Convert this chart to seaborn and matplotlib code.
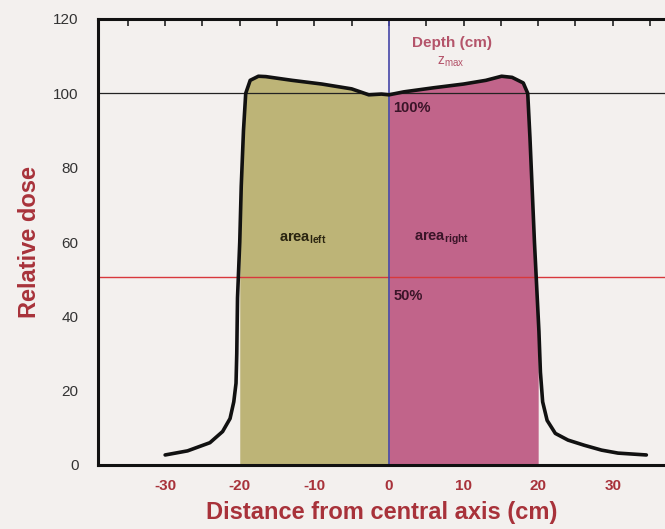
import numpy as np
import pandas as pd
import matplotlib
matplotlib.use("Agg")
import matplotlib.pyplot as plt
import seaborn as sns
from matplotlib.ticker import MultipleLocator

# beam profile
dist = [-30, -27, -24, -22.3, -21.3, -20.8, -20.5, -20.4, -20.3, -20.0, -19.8, -19.5, -19.2,
        -18.6, -17.5, -16.5, -13, -9, -5, -2.7, -1, 0, 2, 6, 10, 13, 15.1, 16.5,
        18.0, 18.6, 18.9, 19.2, 19.5, 19.8, 20.1, 20.3, 20.6, 21.2, 22.3, 24, 26.2, 28.5, 30.7, 34.5]
dose = [2.7, 3.8, 6.0, 9.0, 12.5, 17, 22, 30, 45, 60, 75, 90, 100,
        103.5, 104.6, 104.5, 103.5, 102.5, 101.2, 99.6, 99.8, 99.6, 100.4, 101.5, 102.5, 103.5, 104.6, 104.3,
        102.8, 100, 88, 74, 60, 48, 36, 25, 17, 12, 8.5, 6.7, 5.3, 4.0, 3.2, 2.7]
field_edges = [-20, 0, 20]
ref_levels = [100, 50.5]
xticks = [-30, -20, -10, 0, 10, 20, 30]
yticks = [0, 20, 40, 60, 80, 100, 120]

df = pd.DataFrame({"dist": dist, "dose": dose})

bg = "#f3f0ee"
dark_red = "#a8323a"

sns.set_style("white")
plt.rcParams["font.family"] = ["Liberation Sans", "DejaVu Sans"]
plt.rcParams["axes.unicode_minus"] = False

fig = plt.figure(figsize=(6.65, 5.29), dpi=100, facecolor=bg)
ax = fig.add_axes([98 / 665, 64 / 529, 567 / 665, 446 / 529])
ax.set_facecolor(bg)


def segment(a, b):
    xs = np.array(dist)
    ys = np.array(dose)
    keep = (xs > a) & (xs < b)
    sx = np.concatenate([[a], xs[keep], [b]])
    sy = np.concatenate([[np.interp(a, xs, ys)], ys[keep], [np.interp(b, xs, ys)]])
    return sx, sy


lx, ly = segment(field_edges[0], field_edges[1])
rx, ry = segment(field_edges[1], field_edges[2])
ax.fill_between(lx, 0, ly, color="#bdb477", lw=0, zorder=1)
ax.fill_between(rx, 0, ry, color="#c1648a", lw=0, zorder=1)

ax.axhline(ref_levels[0], color="#222222", lw=0.9, zorder=2)
ax.axhline(ref_levels[1], color="#d8383c", lw=1.0, zorder=2)
ax.axvline(0, color="#4646a8", lw=1.2, zorder=2)

sns.lineplot(data=df, x="dist", y="dose", sort=False, color="#111111", lw=2.6,
             ax=ax, zorder=3)

ax.set_xlim(-39, 37)
ax.set_ylim(0, 120)
ax.set_xticks(xticks)
ax.set_yticks(yticks)
ax.xaxis.set_minor_locator(MultipleLocator(5))
ax.yaxis.set_minor_locator(MultipleLocator(5))
ax.tick_params(axis="x", which="both", direction="in", length=5, width=1.2,
               colors="#222222", labelcolor=dark_red, labelsize=11, pad=10, top=True)
ax.tick_params(axis="y", which="both", direction="in", length=4, width=1.2,
               colors="#222222", labelcolor="#333333", labelsize=11, pad=14)
for lab in ax.get_xticklabels():
    lab.set_fontweight("bold")

for side in ["left", "bottom", "top"]:
    ax.spines[side].set_linewidth(2.2)
    ax.spines[side].set_color("#111111")
ax.spines["right"].set_visible(False)

ax.set_xlabel("Distance from central axis (cm)", color=dark_red, fontsize=17,
              fontweight="bold", labelpad=6)
ax.set_ylabel("Relative dose", color=dark_red, fontsize=17, fontweight="bold",
              labelpad=9)

ax.text(8.5, 113.5, "Depth (cm)", color="#b4546a", fontsize=11, fontweight="bold",
        ha="center", va="center")
ax.text(8.3, 108.5, r"z$_{\mathregular{max}}$", color="#b4546a", fontsize=10,
        ha="center", va="center")
ax.text(0.6, 96, "100%", color="#3a1428", fontsize=10.5, fontweight="bold",
        ha="left", va="center")
ax.text(0.6, 45.5, "50%", color="#3a1428", fontsize=10.5, fontweight="bold",
        ha="left", va="center")
ax.text(-11.5, 61, r"area$_{\mathregular{left}}$", color="#2a2410", fontsize=10.5,
        fontweight="bold", ha="center", va="center")
ax.text(7.0, 61, r"area$_{\mathregular{right}}$", color="#3a1428", fontsize=10.5,
        fontweight="bold", ha="center", va="center")

fig.savefig("out.png", dpi=100, facecolor=bg)
